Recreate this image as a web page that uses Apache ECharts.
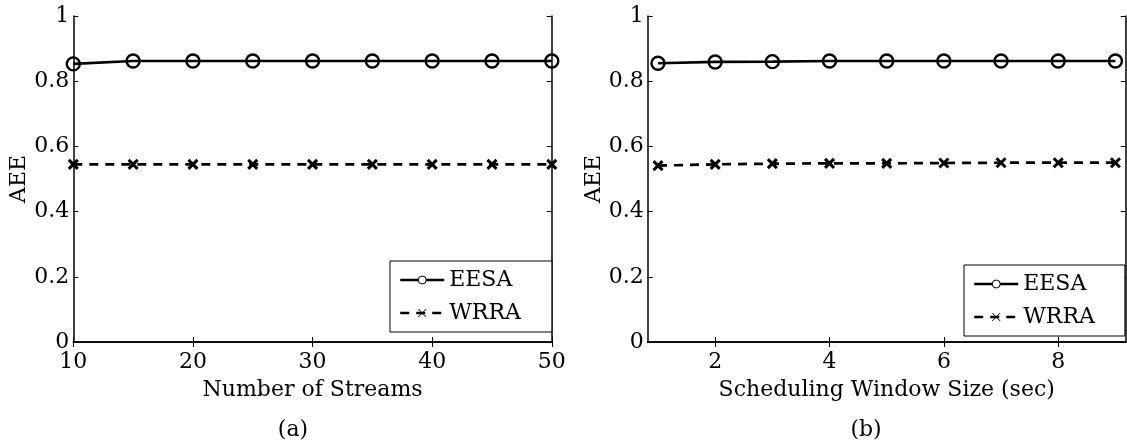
<!DOCTYPE html>
<html>
<head>
<meta charset="utf-8">
<script src="https://cdn.jsdelivr.net/npm/echarts@6/dist/echarts.min.js"></script>
<style>html,body{margin:0;padding:0;background:#fff;}#c{width:1127px;height:448px;}</style>
</head>
<body>
<div id="c"></div>
<script>
// ---- data ----
const streams = [10, 15, 20, 25, 30, 35, 40, 45, 50];
const eesaA = [0.853, 0.862, 0.862, 0.862, 0.862, 0.862, 0.862, 0.862, 0.862];
const wrraA = [0.545, 0.545, 0.545, 0.545, 0.545, 0.545, 0.545, 0.545, 0.545];
const windowSize = [1, 2, 3, 4, 5, 6, 7, 8, 9];
const eesaB = [0.855, 0.859, 0.860, 0.862, 0.862, 0.862, 0.862, 0.862, 0.862];
const wrraB = [0.541, 0.545, 0.547, 0.548, 0.548, 0.549, 0.550, 0.550, 0.550];
const xTicksB = [2, 4, 6, 8];
const seriesNames = ['EESA', 'WRRA'];
const panelLabels = ['(a)', '(b)'];
const xNames = ['Number of Streams', 'Scheduling Window Size (sec)'];
const yName = 'AEE';

const FONT = 'DejaVu Serif';
const FS = 22;
const zip = (xs, ys) => xs.map((x, i) => [x, ys[i]]);
const crossPath = 'path://M0,0L10,10M10,0L0,10';

function mainX(grid, min, max, interval, name, custom) {
  const ax = {
    type: 'value', gridIndex: grid, position: 'bottom', min: min, max: max,
    name: name, nameLocation: 'middle', nameGap: 37,
    nameTextStyle: {fontFamily: FONT, fontSize: FS, color: '#000'},
    axisLine: {show: true, lineStyle: {color: '#000', width: 1.5}},
    axisTick: {show: true, inside: true, length: 5, lineStyle: {color: '#000', width: 1}},
    axisLabel: {show: true, margin: 9, fontFamily: FONT, fontSize: FS, color: '#000'},
    splitLine: {show: false}
  };
  if (custom) { ax.axisTick.customValues = custom; ax.axisLabel.customValues = custom; }
  else ax.interval = interval;
  return ax;
}
function topX(grid, min, max, interval, custom) {
  const ax = {
    type: 'value', gridIndex: grid, position: 'top', min: min, max: max,
    axisLine: {show: true, lineStyle: {color: '#000', width: 1.5}},
    axisTick: {show: true, inside: true, length: 5, lineStyle: {color: '#000', width: 1}},
    axisLabel: {show: false}, splitLine: {show: false}
  };
  if (custom) { ax.axisTick.customValues = custom; ax.axisLabel.customValues = custom; }
  else ax.interval = interval;
  return ax;
}
function mainY(grid) {
  return {
    type: 'value', gridIndex: grid, position: 'left', min: 0, max: 1, interval: 0.2,
    name: yName, nameLocation: 'middle', nameGap: 41, nameRotate: 90,
    nameTextStyle: {fontFamily: FONT, fontSize: FS, color: '#000'},
    axisLine: {show: true, lineStyle: {color: '#000', width: 1.5}},
    axisTick: {show: true, inside: true, length: 5, lineStyle: {color: '#000', width: 1}},
    axisLabel: {show: true, margin: 4, fontFamily: FONT, fontSize: FS, color: '#000'},
    splitLine: {show: false}
  };
}
function rightY(grid) {
  return {
    type: 'value', gridIndex: grid, position: 'right', min: 0, max: 1, interval: 0.2,
    axisLine: {show: true, lineStyle: {color: '#000', width: 1.5}},
    axisTick: {show: true, inside: true, length: 5, lineStyle: {color: '#000', width: 1}},
    axisLabel: {show: false}, splitLine: {show: false}
  };
}
function eesaSeries(xi, yi, data) {
  return {
    name: seriesNames[0], type: 'line', xAxisIndex: xi, yAxisIndex: yi, data: data,
    symbol: 'circle', symbolSize: 13, showAllSymbol: true,
    lineStyle: {color: '#000', width: 2.7, type: 'solid'},
    itemStyle: {color: 'rgba(255,255,255,0)', borderColor: '#000', borderWidth: 2.4},
    emphasis: {disabled: true}, animation: false, z: 3
  };
}
function wrraSeries(xi, yi, data) {
  return {
    name: seriesNames[1], type: 'line', xAxisIndex: xi, yAxisIndex: yi, data: data,
    symbol: crossPath, symbolSize: 9, showAllSymbol: true,
    lineStyle: {color: '#000', width: 2.7, type: [9, 7]},
    itemStyle: {color: '#000', borderColor: '#000', borderWidth: 3},
    emphasis: {disabled: true}, animation: false, z: 3
  };
}
function legend(left, top, width) {
  return {
    orient: 'vertical', left: left, top: top, itemWidth: 44, itemHeight: 10, itemGap: 11,
    padding: [8, width, 8, 9], borderColor: '#000', borderWidth: 1, backgroundColor: '#fff',
    data: seriesNames, selectedMode: false,
    textStyle: {fontFamily: FONT, fontSize: FS, color: '#000'},
    itemStyle: {borderWidth: 1, color: '#fff'},
    lineStyle: {width: 2.5}
  };
}

const chart = echarts.init(document.getElementById('c'), null, {renderer: 'canvas'});
chart.setOption({
  backgroundColor: '#fff',
  animation: false,
  grid: [
    {left: 73.3, top: 16, width: 478.5, height: 326, containLabel: false},
    {left: 647.7, top: 16, width: 478, height: 326, containLabel: false}
  ],
  xAxis: [
    mainX(0, 10, 50, 10, xNames[0]),
    topX(0, 10, 50, 10),
    mainX(1, 0.82, 9.18, null, xNames[1], xTicksB),
    topX(1, 0.82, 9.18, null, xTicksB)
  ],
  yAxis: [mainY(0), rightY(0), mainY(1), rightY(1)],
  legend: [legend(390, 261, 31), legend(964, 265, 30)],
  series: [
    eesaSeries(0, 0, zip(streams, eesaA)),
    wrraSeries(0, 0, zip(streams, wrraA)),
    eesaSeries(2, 2, zip(windowSize, eesaB)),
    wrraSeries(2, 2, zip(windowSize, wrraB))
  ],
  graphic: [
    {type: 'text', x: 293, y: 430, style: {text: panelLabels[0], font: FS + 'px "' + FONT + '"', fill: '#000', align: 'center', verticalAlign: 'middle'}},
    {type: 'text', x: 866, y: 430, style: {text: panelLabels[1], font: FS + 'px "' + FONT + '"', fill: '#000', align: 'center', verticalAlign: 'middle'}}
  ]
});
</script>
</body>
</html>
